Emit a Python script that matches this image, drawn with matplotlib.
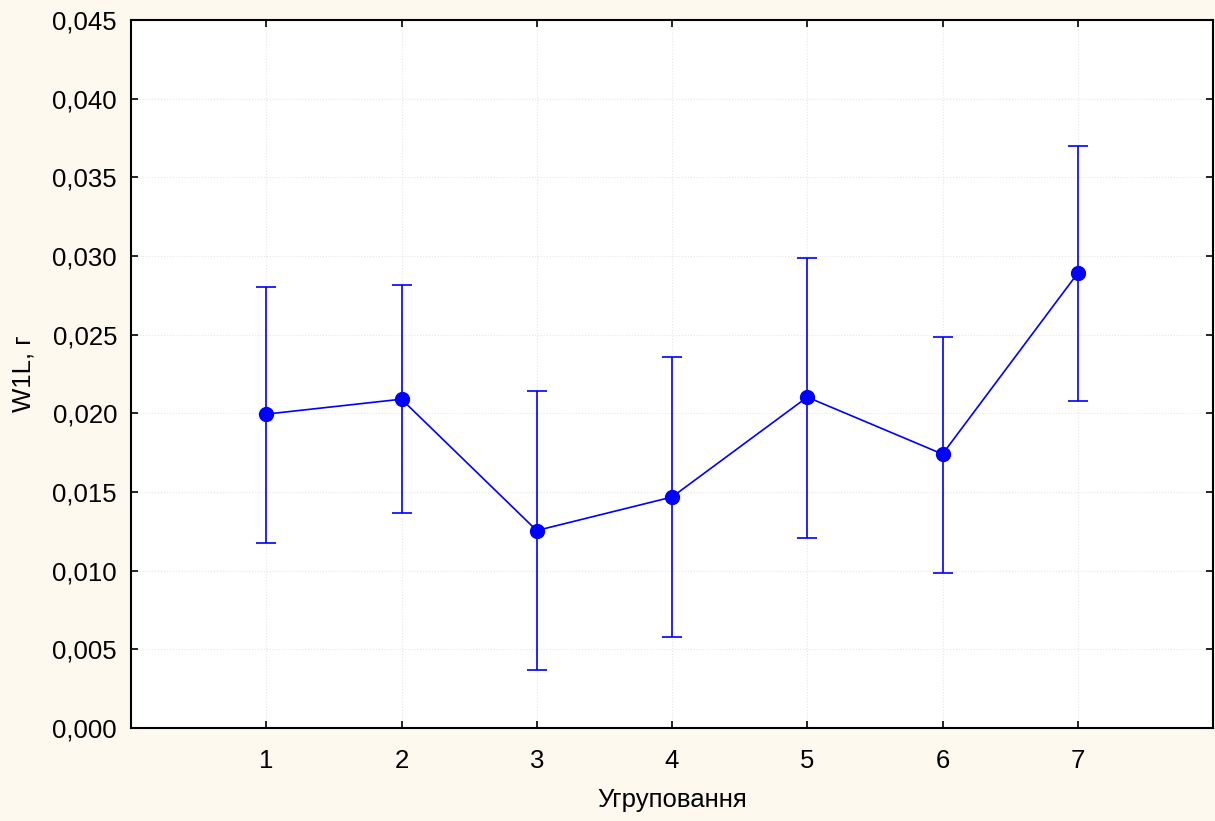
#!/usr/bin/env python
"""W1L by grouping: mean with error bars."""
import matplotlib.pyplot as plt
from matplotlib.ticker import FuncFormatter

groups = [1, 2, 3, 4, 5, 6, 7]
means = [0.01995, 0.0209, 0.01255, 0.01468, 0.02103, 0.01741, 0.02891]
upper = [0.02802, 0.02815, 0.02141, 0.02357, 0.02986, 0.02484, 0.03698]
lower = [0.01175, 0.01366, 0.00368, 0.00578, 0.01207, 0.00985, 0.02078]

BG = "#fef9ee"
BLUE = "#0000ff"

plt.rcParams["font.family"] = ["Liberation Sans", "DejaVu Sans"]

fig = plt.figure(figsize=(12.15, 8.21), dpi=100, facecolor=BG)
ax = fig.add_axes([131 / 1215, 1 - 728 / 821, (1213 - 131) / 1215, (728 - 20) / 821])
ax.set_facecolor("white")

yerr = [[m - lo for m, lo in zip(means, lower)], [hi - m for m, hi in zip(means, upper)]]
ax.errorbar(groups, means, yerr=yerr, color=BLUE, linewidth=1.2, elinewidth=1.2,
            capsize=7, capthick=1.2, marker="o", markersize=10, zorder=3)

ax.set_xlim(0, 8)
ax.set_ylim(0, 0.045)
ax.set_xticks(groups)
ax.set_yticks([i * 0.005 for i in range(10)])
ax.yaxis.set_major_formatter(FuncFormatter(lambda v, _: f"{v:.3f}".replace(".", ",")))

ax.grid(True, color="#e6e6e6", linestyle=":", linewidth=0.8)
ax.set_axisbelow(True)
ax.tick_params(direction="in", length=5, width=1.2, top=True, right=True,
               labelsize=18.5, pad=10)
ax.tick_params(axis="x", pad=15)
for sp in ax.spines.values():
    sp.set_linewidth(1.5)

ax.set_xlabel("Угруповання", fontsize=18.5, labelpad=11)
ax.set_ylabel("W1L, г", fontsize=18.5, labelpad=12)

fig.savefig("out.png", dpi=100, facecolor=BG)
